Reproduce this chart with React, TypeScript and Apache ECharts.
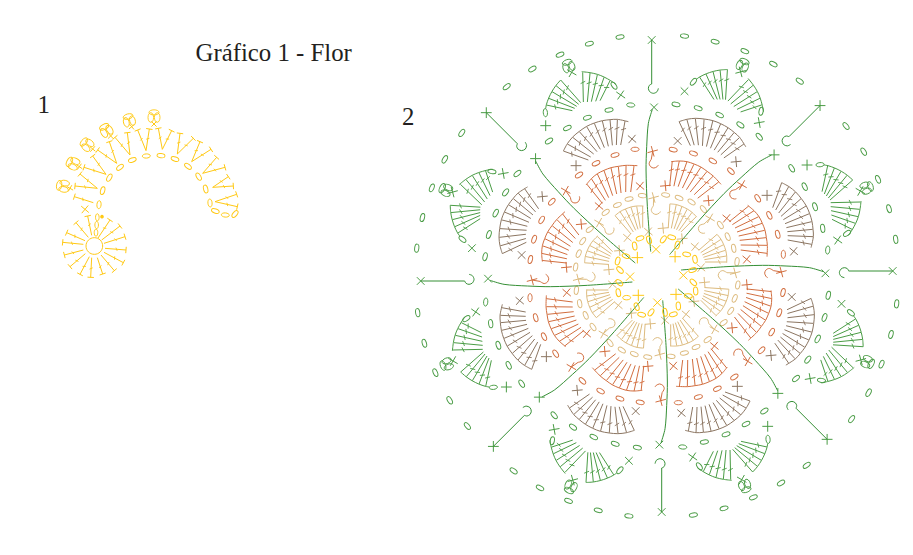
import React, { useEffect, useRef } from "react";
import * as echarts from "echarts";

const TITLE = "Gráfico 1 - Flor";
const LABEL_1 = "1";
const LABEL_2 = "2";

const YELLOW = "#FFC915";
const TAN = "#DDBB7E";
const ORANGE = "#D26E3F";
const BROWN = "#8C7662";
const GREEN = "#4A9C45";
const DARK_GREEN = "#358F35";

// ---- Motif 1: readings from the picture, crop units (3 per pixel, origin 20,80) ----
const m1Ring = [223, 498, 25];
const m1Rays = [
  [203, 408, 215, 466], [168, 428, 205, 472], [140, 458, 195, 482], [128, 487, 190, 493],
  [133, 525, 190, 510], [150, 560, 196, 521], [180, 583, 208, 530], [212, 592, 215, 533],
  [248, 582, 232, 533], [283, 572, 243, 525], [310, 548, 252, 517], [318, 510, 255, 505],
  [315, 470, 252, 490], [300, 438, 245, 480], [270, 420, 234, 474],
];
const m1Vees = [
  [220, 368, 163, 350], [232, 325, 165, 318], [232, 325, 180, 282], [258, 283, 192, 262],
  [258, 283, 218, 228], [290, 250, 233, 210], [290, 250, 268, 185], [330, 225, 285, 172],
  [330, 225, 322, 158], [378, 212, 353, 150], [378, 212, 388, 147], [427, 208, 415, 145],
  [427, 208, 455, 152], [472, 222, 480, 160], [472, 222, 520, 175], [515, 245, 540, 185],
  [515, 245, 573, 208], [548, 280, 590, 232], [548, 280, 615, 262], [578, 322, 625, 290],
  [578, 322, 640, 318], [585, 365, 650, 343], [585, 365, 652, 380],
];
const m1Chain = [[228, 458, 90], [230, 435, 90], [232, 412, 90]];
const m1Ovals = [
  [237, 374, -85], [248, 332, -75], [268, 293, -60], [300, 262, -40], [337, 240, -20], [379, 228, -3],
  [423, 227, 8], [465, 237, 20], [504, 259, 40], [536, 290, 60], [557, 327, 75], [570, 369, 85],
  [586, 393, 20], [616, 405, 5], [645, 402, -50],
];
const m1BigCross = [[195, 388, 40]];
const m1Crosses = [[150, 325, 30], [178, 260, 35], [218, 207, 40], [272, 168, 45], [335, 140, 50], [402, 132, 45]];
const m1Bobbles = [
  [128, 318, 190], [158, 250, 205], [200, 193, 220], [258, 150, 240], [327, 120, 255], [402, 108, 270],
];
const m1Dot = [246, 410];

// ---- Motif 2: one petal, crop units (3 per pixel, origin 400,20) ----
const petalTurns = [-1, 0, 1, 2, 3, 4, 5, 6];
const centre = [770, 768];
const ringOuterOvals = [[660, 51, -9], [568, 71, -16], [480, 104, -23], [397, 147, -31], [320, 200, -38]];
const ringGreenOvals = [[692, 255, 5], [627, 270, -8], [562, 293, -18], [502, 324, -25], [447, 363, -32], [642, 197, 55], [436, 278, 85]];
const ringOrangeOvals = [[705, 388, 0], [645, 405, -15], [588, 430, -25], [537, 465, -32]];
const ringTanOvals = [[727, 527, 8], [687, 537, -10], [652, 555, -22], [617, 577, -35]];
// crop units: 3 per pixel, origin 600,220
const yellowRing = [
  [104, 78, 80], [120, 55, -20], [147, 60, 70], [190, 58, -55], [215, 52, 15], [232, 75, -75],
  [260, 103, 10], [285, 118, 80], [278, 150, -20], [280, 187, 45], [287, 213, 85], [265, 228, 5],
  [235, 258, 85], [220, 283, -15], [195, 277, 80], [153, 277, -55], [125, 284, 15], [110, 260, 70],
  [80, 233, 0], [55, 218, 80], [58, 188, 40], [60, 150, 45], [53, 123, -75], [78, 108, 20],
];

const greenCrosses = [[662, 225, 35], [437, 317, 0], [515, 157, 30]];
const brownCrosses = [[696, 357, 40], [528, 437, 0]];
const orangeCrosses = [[720, 498, 40], [597, 558, 40], [497, 512, 30]];
const tanCrosses = [[682, 653, 40], [745, 635, 40], [597, 608, 30]];
const yellowCrosses = [[768, 688, 45]];
const lineCrosses = [[762, 262, 45], [755, 60, 45]];
const greenBobbles = [[505, 137, 250]];

const greenFanA = [[548, 157, 550, 246], [570, 159, 562, 246], [592, 164, 574, 245], [612, 172, 587, 244], [630, 182, 600, 242]];
const greenArcA = [[545, 155], [570, 158], [592, 163], [612, 171], [632, 182], [648, 193]];
const greenFanB = [[482, 180, 542, 248], [468, 197, 536, 253], [456, 215, 530, 259], [446, 235, 524, 265], [439, 255, 517, 272]];
const greenArcB = [[482, 180], [468, 196], [456, 214], [446, 234], [439, 254], [437, 266]];
const brownFan = [
  [490, 393, 565, 420], [502, 372, 572, 411], [518, 352, 581, 402], [538, 335, 591, 395], [560, 320, 601, 388],
  [583, 310, 613, 383], [607, 303, 625, 379], [630, 300, 637, 376], [652, 299, 649, 375], [675, 303, 662, 375],
];
const brownArc = [[490, 393], [502, 371], [518, 351], [538, 334], [560, 319], [583, 309], [607, 302], [630, 299], [652, 298], [685, 305]];
const orangeFan = [
  [560, 492, 607, 550], [574, 476, 616, 541], [592, 462, 626, 533], [612, 452, 638, 527],
  [633, 444, 650, 522], [655, 440, 663, 519], [678, 437, 677, 516], [702, 437, 692, 516],
];
const orangeArc = [[558, 495], [574, 476], [592, 461], [612, 451], [633, 443], [655, 439], [678, 436], [712, 437]];
const tanFan = [
  [645, 587, 693, 642], [660, 575, 700, 636], [676, 567, 707, 631],
  [693, 562, 714, 628], [710, 559, 721, 625], [728, 558, 728, 623],
];
const tanArc = [[645, 587], [660, 575], [676, 567], [693, 561], [710, 558], [730, 558]];

const innerLine = [[757, 268], [745, 310], [740, 380], [738, 450], [742, 560], [752, 695]];
const outerStem = [[755, 60], [755, 192]];
const outerHook = [[755, 192], [748, 196], [745, 205], [749, 215], [760, 220], [771, 215], [775, 205]];
const orangeStem = [[497, 512], [511, 532]];
const orangeHook = [[511, 532], [515, 545], [525, 549], [535, 545], [539, 535], [538, 529]];
const tanStem = [[597, 608], [614, 626]];
const tanHook = [[614, 626], [618, 639], [628, 643], [638, 639], [642, 629], [641, 623]];

type Pt = number[];
type Prim =
  | { k: "poly"; c: string; w: number; smooth: number; pts: Pt[] }
  | { k: "oval"; c: string; w: number; p: Pt; tilt: number; rx: number; ry: number }
  | { k: "dot"; c: string; p: Pt; r: number };

const D2R = Math.PI / 180;
const deg = (a: number) => a * D2R;

function makeAddOns(prims: Prim[], map: (p: Pt) => Pt, turn: number) {
  return {
    line(c: string, pts: Pt[], smooth = 0) {
      prims.push({ k: "poly", c, w: 1, smooth, pts: pts.map(map) });
    },
    oval(c: string, o: number[], rx = 4.1, ry = 2.1) {
      prims.push({ k: "oval", c, w: 0.95, p: map(o), tilt: o[2] + turn, rx, ry });
    },
    cross(c: string, o: number[], arm = 5.4) {
      const p = map(o);
      [o[2] + turn, o[2] + turn + 90].forEach((a) => {
        const dx = Math.cos(deg(a)) * arm;
        const dy = Math.sin(deg(a)) * arm;
        prims.push({ k: "poly", c, w: 1, smooth: 0, pts: [[p[0] - dx, p[1] - dy], [p[0] + dx, p[1] + dy]] });
      });
    },
    stitch(c: string, s: number[], cap: number, bar: number, t: number) {
      const a = map([s[0], s[1]]);
      const b = map([s[2], s[3]]);
      prims.push({ k: "poly", c, w: 1, smooth: 0, pts: [a, b] });
      const ang = Math.atan2(b[1] - a[1], b[0] - a[0]);
      const px = -Math.sin(ang);
      const py = Math.cos(ang);
      if (cap > 0) {
        prims.push({ k: "poly", c, w: 1, smooth: 0, pts: [[a[0] - px * cap, a[1] - py * cap], [a[0] + px * cap, a[1] + py * cap]] });
      }
      const m = [a[0] + (b[0] - a[0]) * t, a[1] + (b[1] - a[1]) * t];
      const sl = ang + Math.PI / 2 - 0.45;
      const bx = Math.cos(sl) * bar;
      const by = Math.sin(sl) * bar;
      prims.push({ k: "poly", c, w: 0.9, smooth: 0, pts: [[m[0] - bx, m[1] - by], [m[0] + bx, m[1] + by]] });
    },
    bobble(c: string, o: number[]) {
      const p = map(o);
      const a = o[2] + turn;
      const ux = Math.cos(deg(a));
      const uy = Math.sin(deg(a));
      const off = (f: number, s: number) => [p[0] + ux * f - uy * s, p[1] + uy * f + ux * s];
      prims.push({ k: "oval", c, w: 0.9, p: off(-1.5, -3.2), tilt: a, rx: 4.8, ry: 2.8 });
      prims.push({ k: "oval", c, w: 0.9, p: off(-1.5, 3.2), tilt: a, rx: 4.8, ry: 2.8 });
      prims.push({ k: "oval", c, w: 0.9, p: off(3.6, 0), tilt: a + 90, rx: 5, ry: 2.6 });
    },
  };
}

function buildMotif1(): Prim[] {
  const prims: Prim[] = [];
  const map = (p: Pt) => [20 + p[0] / 3, 80 + p[1] / 3];
  const d = makeAddOns(prims, map, 0);
  prims.push({ k: "oval", c: YELLOW, w: 1, p: map(m1Ring), tilt: 0, rx: m1Ring[2] / 3, ry: m1Ring[2] / 3 });
  prims.push({ k: "dot", c: YELLOW, p: map(m1Dot), r: 1.8 });
  m1Rays.forEach((s) => d.stitch(YELLOW, s, 3.2, 1.7, 0.45));
  m1Vees.forEach((s) => d.stitch(YELLOW, [s[2], s[3], s[0], s[1]], 3.2, 1.7, 0.45));
  m1Chain.forEach((o) => d.oval(YELLOW, o, 3.6, 1.8));
  m1Ovals.forEach((o) => d.oval(YELLOW, o, 4, 2.1));
  m1BigCross.forEach((o) => d.cross(YELLOW, o, 5));
  m1Crosses.forEach((o) => d.cross(YELLOW, o, 3.6));
  m1Bobbles.forEach((o) => d.bobble(YELLOW, o));
  return prims;
}

function buildPetals(): Prim[] {
  const prims: Prim[] = [];
  const T = 0.34;
  petalTurns.forEach((n) => {
    const turn = n * 45;
    const cs = Math.cos(deg(turn));
    const sn = Math.sin(deg(turn));
    const map = (p: Pt) => {
      const x = (p[0] - centre[0]) / 3;
      const y = (p[1] - centre[1]) / 3;
      return [656.7 + x * cs - y * sn, 276 + x * sn + y * cs];
    };
    const d = makeAddOns(prims, map, turn);
    d.line(TAN, tanArc, 0.3);
    tanFan.forEach((s) => d.stitch(TAN, s, 0, 2.4, T));
    ringTanOvals.forEach((o) => d.oval(TAN, o));
    tanCrosses.forEach((o) => d.cross(TAN, o));
    d.line(TAN, tanStem);
    d.line(TAN, tanHook, 0.3);

    d.line(ORANGE, orangeArc, 0.3);
    orangeFan.forEach((s) => d.stitch(ORANGE, s, 0, 2.6, T));
    ringOrangeOvals.forEach((o) => d.oval(ORANGE, o));
    orangeCrosses.forEach((o) => d.cross(ORANGE, o));
    d.line(ORANGE, orangeStem);
    d.line(ORANGE, orangeHook, 0.3);

    d.line(BROWN, brownArc, 0.3);
    brownFan.forEach((s) => d.stitch(BROWN, s, 0, 2.6, T));
    brownCrosses.forEach((o) => d.cross(BROWN, o));

    d.line(GREEN, greenArcA, 0.3);
    greenFanA.forEach((s) => d.stitch(GREEN, s, 0, 2.6, T));
    d.line(GREEN, greenArcB, 0.3);
    greenFanB.forEach((s) => d.stitch(GREEN, s, 0, 2.6, T));
    ringOuterOvals.forEach((o) => d.oval(GREEN, o));
    ringGreenOvals.forEach((o) => d.oval(GREEN, o));
    greenCrosses.forEach((o) => d.cross(GREEN, o));
    lineCrosses.forEach((o) => d.cross(GREEN, o));
    greenBobbles.forEach((o) => d.bobble(GREEN, o));
    d.line(DARK_GREEN, innerLine, 0.3);
    d.line(DARK_GREEN, outerStem);
    d.line(DARK_GREEN, outerHook, 0.3);

    yellowCrosses.forEach((o) => d.cross(YELLOW, o, 5.8));
  });
  yellowRing.forEach((o) => {
    prims.push({ k: "oval", c: YELLOW, w: 1, p: [600 + o[0] / 3, 220 + o[1] / 3], tilt: o[2], rx: 4, ry: 2.2 });
  });
  return prims;
}

function renderPrim(prims: Prim[]) {
  return (params: any, api: any) => {
    const m = prims[params.dataIndex];
    if (m.k === "poly") {
      return {
        type: "polyline",
        shape: { points: m.pts.map((p) => api.coord(p)), smooth: m.smooth },
        style: { stroke: m.c, fill: "none", lineWidth: m.w },
      };
    }
    const at = api.coord(m.p);
    if (m.k === "dot") {
      return {
        type: "circle",
        shape: { cx: at[0], cy: at[1], r: m.r },
        style: { fill: m.c, stroke: "none" },
      };
    }
    return {
      type: "ellipse",
      x: at[0],
      y: at[1],
      rotation: -deg(m.tilt),
      shape: { cx: 0, cy: 0, rx: m.rx, ry: m.ry },
      style: { stroke: m.c, fill: "none", lineWidth: m.w },
    };
  };
}

function series(name: string, prims: Prim[]) {
  return {
    type: "custom",
    name,
    silent: true,
    clip: false,
    progressive: 0,
    encode: { x: 0, y: 1 },
    data: prims.map((m) => (m.k === "poly" ? m.pts[0] : m.p)),
    renderItem: renderPrim(prims),
  };
}

export default function App() {
  const ref = useRef<HTMLDivElement>(null);
  useEffect(() => {
    const chart = echarts.init(ref.current!, undefined, { renderer: "svg" });
    const serif = "'Liberation Serif', 'Times New Roman', serif";
    chart.setOption({
      animation: false,
      backgroundColor: "#fff",
      grid: { left: 0, right: 0, top: 0, bottom: 0 },
      xAxis: { type: "value", min: 0, max: 913, show: false },
      yAxis: { type: "value", min: 0, max: 555, inverse: true, show: false },
      title: {
        text: TITLE,
        left: 195.5,
        top: 40,
        padding: 0,
        textStyle: { fontFamily: serif, fontSize: 24.8, fontWeight: "normal", color: "#231F20" },
      },
      graphic: [
        { type: "text", x: 37.5, y: 92, style: { text: LABEL_1, fontFamily: serif, fontSize: 24.8, fill: "#231F20" } },
        { type: "text", x: 402, y: 103.5, style: { text: LABEL_2, fontFamily: serif, fontSize: 24.8, fill: "#231F20" } },
      ],
      series: [series("Motivo 1", buildMotif1()), series("Motivo 2", buildPetals())],
    });
    return () => chart.dispose();
  }, []);
  return <div ref={ref} style={{ position: "absolute", left: 0, top: 0, width: 913, height: 555 }} />;
}
